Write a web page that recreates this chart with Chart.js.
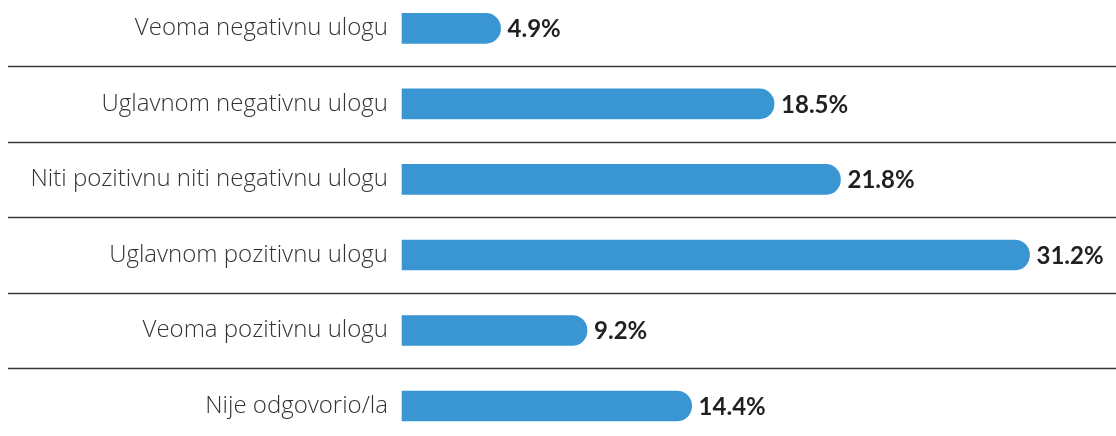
<!DOCTYPE html>
<html lang="sr">
<head>
<meta charset="UTF-8">
<title>Uloga</title>
<script src="https://cdn.jsdelivr.net/npm/chart.js@4/dist/chart.umd.min.js"></script>
<style>
	html, body { margin: 0; padding: 0; background: #fff; }
	#wrap { width: 1116px; height: 436px; position: relative; }
</style>
</head>
<body>
<div id="wrap"><canvas id="bar-chart"></canvas></div>
<script>
	// data
	var categories = [
		"Veoma negativnu ulogu",
		"Uglavnom negativnu ulogu",
		"Niti pozitivnu niti negativnu ulogu",
		"Uglavnom pozitivnu ulogu",
		"Veoma pozitivnu ulogu",
		"Nije odgovorio/la"
	];
	var values = [4.9, 18.5, 21.8, 31.2, 9.2, 14.4];

	// lines between rows, reaching under the labels
	var separators = {
		id: 'separators',
		beforeDatasetsDraw: function(chart) {
			var ctx = chart.ctx;
			var y = chart.scales.y;
			ctx.save();
			ctx.strokeStyle = '#3a3a3a';
			ctx.lineWidth = 1.5;
			for (var i = 0; i < categories.length - 1; i++) {
				var mid = Math.round((y.getPixelForValue(i) + y.getPixelForValue(i + 1)) / 2) + 0.5;
				ctx.beginPath();
				ctx.moveTo(8, mid);
				ctx.lineTo(chart.width, mid);
				ctx.stroke();
			}
			ctx.restore();
		}
	};

	// percentage after each bar
	var valueLabels = {
		id: 'valueLabels',
		afterDatasetsDraw: function(chart) {
			var ctx = chart.ctx;
			var meta = chart.getDatasetMeta(0);
			ctx.save();
			ctx.font = 'bold 24px Lato';
			ctx.fillStyle = '#231f20';
			ctx.textBaseline = 'middle';
			ctx.textAlign = 'left';
			meta.data.forEach(function(bar, i) {
				ctx.fillText(values[i].toFixed(1) + '%', bar.x + 7, bar.y + 1);
			});
			ctx.restore();
		}
	};

	new Chart(document.getElementById('bar-chart'), {
		type: 'bar',
		data: {
			labels: categories,
			datasets: [{
				data: values,
				backgroundColor: '#3a96d3',
				borderRadius: 15,
				borderSkipped: 'start',
				barThickness: 30,
				clip: false
			}]
		},
		options: {
			indexAxis: 'y',
			responsive: true,
			maintainAspectRatio: false,
			animation: false,
			layout: { padding: { top: 28, bottom: 30, left: 0, right: 0 } },
			plugins: {
				legend: { display: false },
				tooltip: { enabled: false }
			},
			scales: {
				x: {
					display: false,
					min: 0,
					max: 35.5
				},
				y: {
					offset: false,
					grid: { display: false, drawTicks: false },
					border: { display: false },
					afterFit: function(scale) { scale.width = 402; },
					ticks: {
						padding: 14,
						color: '#333',
						font: { family: 'Open Sans', size: 24, weight: '300' }
					}
				}
			}
		},
		plugins: [separators, valueLabels]
	});
</script>
</body>
</html>
